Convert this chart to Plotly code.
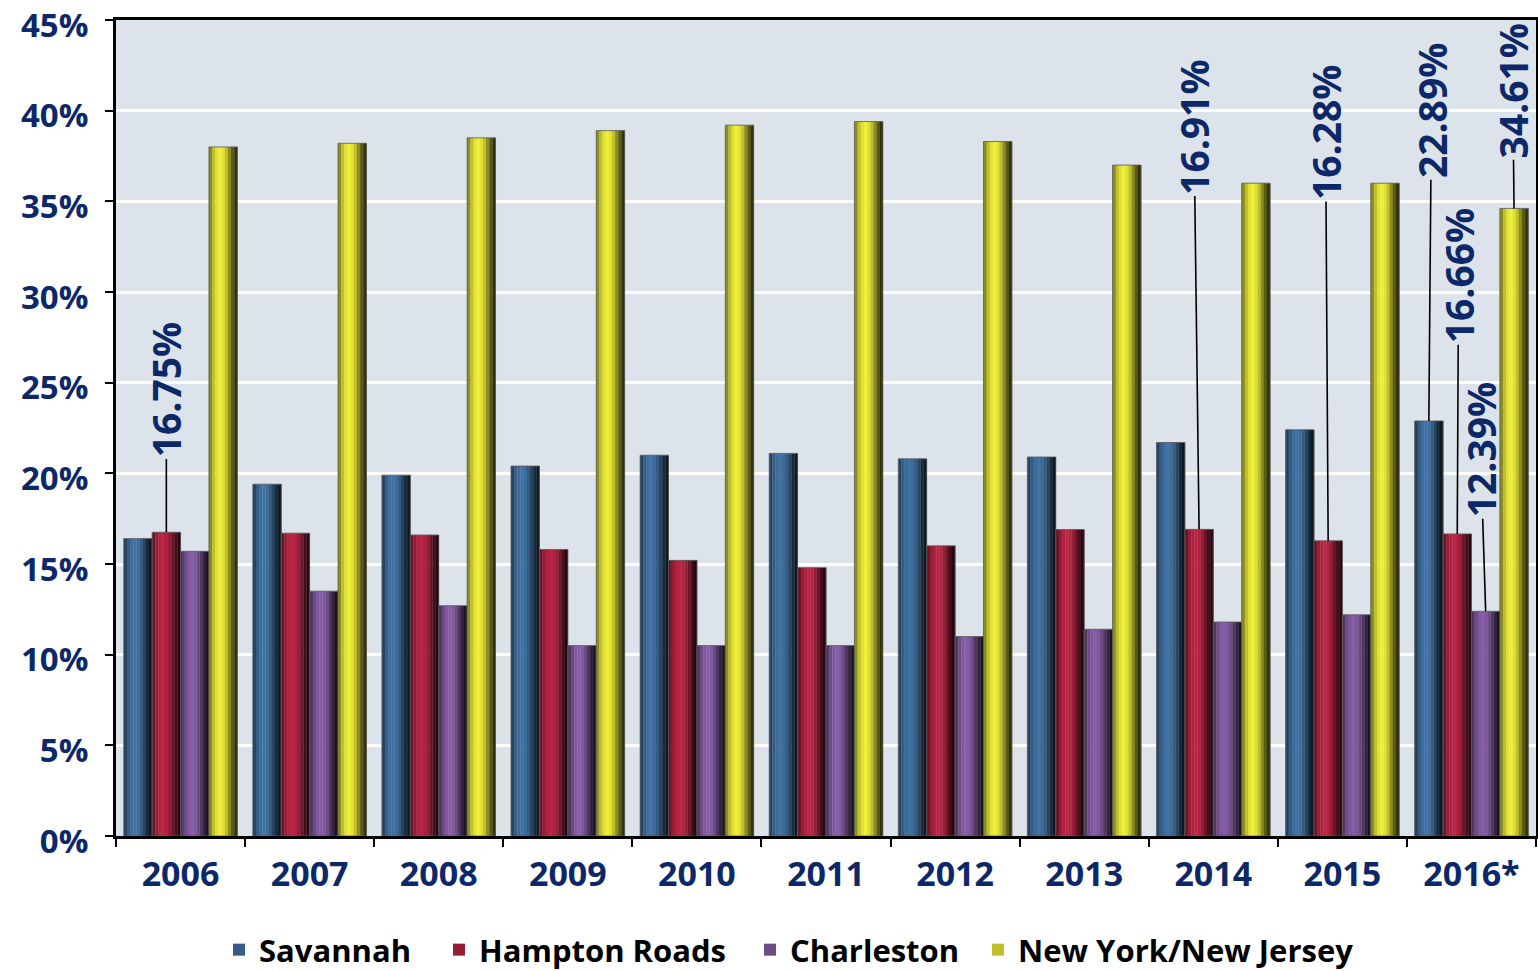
import plotly.graph_objects as go

years = ["2006", "2007", "2008", "2009", "2010", "2011", "2012", "2013", "2014", "2015", "2016*"]
savannah = [16.4, 19.4, 19.9, 20.4, 21.0, 21.1, 20.8, 20.9, 21.7, 22.4, 22.89]
hampton = [16.75, 16.7, 16.6, 15.8, 15.2, 14.8, 16.0, 16.9, 16.91, 16.28, 16.66]
charleston = [15.7, 13.5, 12.7, 10.5, 10.5, 10.5, 11.0, 11.4, 11.8, 12.2, 12.39]
nynj = [38.0, 38.2, 38.5, 38.9, 39.2, 39.4, 38.3, 37.0, 36.0, 36.0, 34.61]

series_names = ["Savannah", "Hampton Roads", "Charleston", "New York/New Jersey"]
series_values = [savannah, hampton, charleston, nynj]
base_colors = [(61, 108, 155), (176, 34, 64), (128, 88, 158), (226, 226, 52)]

y_ticks = [0, 5, 10, 15, 20, 25, 30, 35, 40, 45]
y_ticktext = [f"{v}%" for v in y_ticks]

# labelled points: (series index, year index, label, label centre x offset, label centre y)
labels = [
    (1, 0, "16.75%", 0.0, 24.6),
    (1, 8, "16.91%", -0.04, 39.1),
    (1, 9, "16.28%", -0.02, 38.8),
    (0, 10, "22.89%", 0.02, 40.0),
    (1, 10, "16.66%", 0.01, 30.9),
    (2, 10, "12.39%", -0.04, 21.3),
    (3, 10, "34.61%", -0.01, 41.1),
]

legend_ids = ["legend", "legend2", "legend3", "legend4"]
legend_x_px = [219, 439, 750, 978]

bar_w = 0.22
n_strips = 9
profile = [0.62, 0.85, 1.0, 1.06, 1.0, 0.85, 0.62, 0.4, 0.22]

fig = go.Figure()

def shade(c, f):
    return "rgb(%d,%d,%d)" % tuple(max(0, min(255, int(round(v * f)))) for v in c)

for si, (name, vals, col) in enumerate(zip(series_names, series_values, base_colors)):
    start = -2 * bar_w + si * bar_w
    sw = bar_w / n_strips
    for k in range(n_strips):
        fig.add_trace(go.Bar(
            x=years, y=vals, name=name,
            width=[sw * 1.08] * len(years),
            offset=[start + k * sw] * len(years),
            marker=dict(color=shade(col, profile[k]), line=dict(width=0)),
            showlegend=(k == 1), legendgroup=name, legend=legend_ids[si],
            hoverinfo="skip",
        ))
    fig.add_trace(go.Bar(
        x=years, y=vals, name=name,
        width=[bar_w] * len(years),
        offset=[start] * len(years),
        marker=dict(color="rgba(0,0,0,0)", line=dict(width=1, color="rgba(90,90,90,0.8)")),
        showlegend=False, legendgroup=name, legend=legend_ids[si], hoverinfo="skip",
    ))

annotations = []
for si, yi, txt, dx, ty in labels:
    bx = yi - 2 * bar_w + si * bar_w + bar_w / 2
    annotations.append(dict(
        x=bx, y=series_values[si][yi], xref="x", yref="y",
        ax=bx + dx, ay=ty, axref="x", ayref="y",
        text=txt, textangle=-90, showarrow=True, arrowhead=0,
        arrowwidth=1.6, arrowcolor="black", standoff=0,
        font=dict(family="Open Sans", size=39, color="#0c2868", weight="bold"),
    ))

legend_style = dict(
    orientation="h", xref="container", yref="container",
    xanchor="left", y=1 - 950 / 971, yanchor="middle",
    font=dict(family="Open Sans", size=31, color="black", weight="bold"),
    itemwidth=30, bgcolor="rgba(0,0,0,0)",
)
legends = {}
for lid, lx in zip(legend_ids, legend_x_px):
    legends[lid] = dict(legend_style, x=lx / 1538)

fig.update_layout(
    width=1538, height=971,
    margin=dict(l=116, r=2, t=20, b=135),
    paper_bgcolor="white", plot_bgcolor="#dde3ea",
    barmode="overlay",
    showlegend=True,
    annotations=annotations,
    xaxis=dict(
        type="category", range=[-0.5, 10.5], automargin=False,
        showgrid=False, showline=True, linecolor="black", linewidth=3, mirror=True,
        ticks="outside", tickson="boundaries", ticklen=8, tickwidth=2, tickcolor="black",
        ticklabelstandoff=6,
        tickfont=dict(family="Open Sans", size=34, color="#0c2868", weight="bold"),
    ),
    yaxis=dict(
        range=[0, 45], tickvals=y_ticks, ticktext=y_ticktext, automargin=False,
        showgrid=True, gridcolor="white", gridwidth=3,
        showline=True, linecolor="black", linewidth=3, mirror=True,
        ticks="outside", ticklen=8, tickwidth=2, tickcolor="black",
        ticklabelstandoff=10, ticklabeloverflow="allow", ticklabelshift=5,
        tickfont=dict(family="Open Sans", size=33, color="#0c2868", weight="bold"),
        zeroline=False,
    ),
    **legends,
)

fig.write_html(
    "out.html",
    config={"displayModeBar": False},
    post_script="document.body.style.margin='0px';document.body.style.overflow='hidden';",
)
